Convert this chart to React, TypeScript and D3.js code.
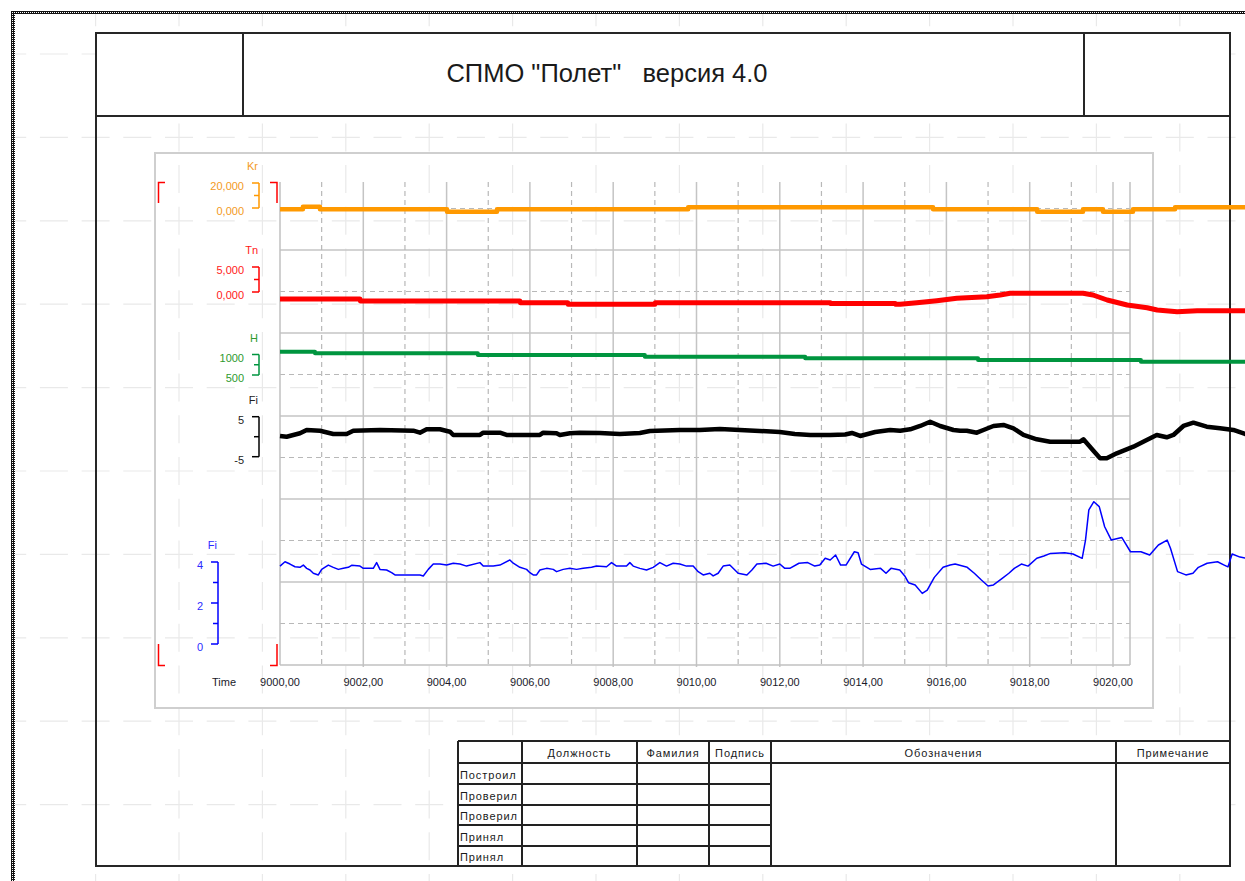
import React from "react";
import * as d3 from "d3";

// ---------- data ----------
const timeStart = 9000;
const xTickValues = [9000, 9002, 9004, 9006, 9008, 9010, 9012, 9014, 9016, 9018, 9020];

// [seconds since timeStart, value]
const krSeries: [number, number][] = [
  [0, -1.04], [0.55, 1.04], [0.96, -1.04], [4.01, -2.96], [5.21, -1.04], [9.8, 0.56],
  [15.68, -1.04], [18.18, -2.96], [19.28, -1.04], [19.76, -2.96], [20.48, -1.04],
  [21.49, 0.56], [23.4, 0.56],
];
const krMajorTicks = [0, 20];
const krMinorTicks = [10];

const tnSeries: [number, number][] = [
  [0, -1.4], [1.92, -1.4], [1.93, -1.8], [5.76, -1.8], [5.77, -2.14], [6.91, -2.14],
  [6.92, -2.46], [9.0, -2.46], [9.01, -2.14], [13.21, -2.14], [13.22, -2.3], [14.77, -2.3],
  [14.78, -2.46], [14.89, -2.46], [15.29, -2.14], [15.77, -1.74], [16.25, -1.26],
  [16.97, -0.94], [17.29, -0.6], [17.53, -0.26], [19.28, -0.26], [19.52, -0.6],
  [19.86, -1.6], [20.34, -2.6], [20.82, -3.14], [21.06, -3.6], [21.54, -3.94],
  [22.02, -3.74], [23.4, -3.74],
];
const tnMajorTicks = [0, 5];
const tnMinorTicks = [2.5];

const hSeries: [number, number][] = [
  [0, 1068], [0.84, 1029], [4.75, 988], [8.76, 946], [12.61, 907], [16.76, 866],
  [20.67, 824], [23.4, 824],
];
const hMajorTicks = [500, 1000];
const hMinorTicks = [750];

const fiSeries: [number, number][] = [
  [0, 0.18], [0.16, 0], [0.48, 0.85], [0.64, 1.68], [0.96, 1.5], [1.28, 0.68], [1.6, 0.68],
  [1.76, 1.5], [2.4, 1.68], [3.2, 1.5], [3.36, 1.0], [3.52, 1.85], [3.84, 1.85], [4.08, 1.25],
  [4.16, 0.43], [4.8, 0.43], [4.88, 1.0], [5.28, 1.0], [5.44, 0.43], [6.24, 0.43], [6.32, 1.0],
  [6.64, 0.85], [6.72, 0.43], [6.96, 0.85], [7.2, 1.0], [7.68, 0.93], [8.16, 0.68], [8.64, 0.93],
  [8.88, 1.43], [9.6, 1.68], [10.08, 1.68], [10.56, 1.93], [11.04, 1.68], [11.52, 1.43],
  [12.0, 1.18], [12.36, 0.68], [12.73, 0.43], [13.21, 0.43], [13.57, 0.55], [13.73, 0.93],
  [13.93, 0.18], [14.29, 1.18], [14.65, 1.68], [14.89, 1.5], [15.13, 1.85], [15.37, 2.68],
  [15.61, 3.75], [15.85, 2.68], [16.17, 1.68], [16.33, 1.5], [16.49, 1.5], [16.73, 1.0],
  [16.89, 1.68], [17.13, 2.68], [17.37, 2.93], [17.61, 2.1], [17.85, 0.43], [18.17, -0.65],
  [18.49, -1.25], [19.21, -1.25], [19.29, -0.65], [19.53, -3.5], [19.69, -5.4], [19.85, -5.4],
  [20.09, -4.15], [20.49, -2.5], [20.81, -0.82], [21.05, 0.43], [21.29, -0.15], [21.45, 0.43],
  [21.69, 2.68], [21.93, 3.5], [22.25, 2.5], [22.57, 2.1], [22.89, 1.68], [23.17, 0.68],
  [23.29, 0.43],
];
const fiMajorTicks = [-5, 5];
const fiMinorTicks = [0];

const fiBlueSeries: [number, number][] = [
  [0.0, 3.8], [0.12, 4.01], [0.24, 3.9], [0.36, 3.77], [0.48, 3.74], [0.56, 3.85], [0.64, 3.69],
  [0.72, 3.61], [0.8, 3.45], [0.92, 3.37], [1.0, 3.64], [1.16, 3.85], [1.28, 3.74], [1.4, 3.64],
  [1.52, 3.69], [1.64, 3.74], [1.72, 3.84], [1.92, 3.8], [2.0, 3.69], [2.24, 3.69], [2.32, 3.97],
  [2.4, 3.64], [2.56, 3.61], [2.68, 3.48], [2.76, 3.37], [3.36, 3.37], [3.44, 3.32], [3.56, 3.64],
  [3.68, 3.9], [3.84, 3.9], [4.0, 3.85], [4.16, 3.94], [4.32, 3.9], [4.48, 3.8], [4.8, 3.97],
  [4.88, 3.8], [5.12, 3.8], [5.28, 3.85], [5.52, 4.1], [5.6, 3.94], [5.76, 3.74], [5.92, 3.64],
  [6.0, 3.48], [6.08, 3.37], [6.16, 3.37], [6.24, 3.61], [6.4, 3.69], [6.56, 3.64], [6.64, 3.53],
  [6.8, 3.64], [6.96, 3.69], [7.12, 3.64], [7.28, 3.69], [7.48, 3.74], [7.6, 3.8], [7.84, 3.77],
  [7.96, 3.97], [8.08, 3.8], [8.32, 3.8], [8.4, 3.97], [8.48, 3.8], [8.64, 3.69], [8.8, 3.61],
  [8.96, 3.74], [9.12, 3.97], [9.28, 3.8], [9.44, 3.94], [9.6, 3.9], [9.76, 3.8], [9.92, 3.8],
  [10.04, 3.53], [10.16, 3.37], [10.32, 3.45], [10.4, 3.32], [10.52, 3.45], [10.64, 3.8],
  [10.8, 3.85], [11.0, 3.45], [11.21, 3.37], [11.33, 3.61], [11.45, 3.9], [11.67, 3.94],
  [11.84, 3.8], [12.0, 3.9], [12.12, 3.69], [12.24, 3.69], [12.46, 3.94], [12.67, 3.97],
  [12.84, 3.8], [12.96, 3.85], [13.09, 4.18], [13.21, 4.1], [13.34, 4.34], [13.46, 3.85],
  [13.59, 3.85], [13.79, 4.5], [13.88, 4.45], [13.96, 3.9], [14.17, 3.64], [14.42, 3.69],
  [14.55, 3.45], [14.67, 3.69], [14.88, 3.61], [15.0, 3.32], [15.09, 2.99], [15.25, 2.88],
  [15.42, 2.47], [15.54, 2.63], [15.71, 3.25], [15.92, 3.74], [16.09, 3.85], [16.21, 3.9],
  [16.5, 3.74], [16.67, 3.45], [16.84, 3.12], [17.0, 2.83], [17.13, 2.88], [17.34, 3.2],
  [17.5, 3.45], [17.63, 3.69], [17.8, 3.9], [17.96, 3.8], [18.17, 4.18], [18.34, 4.29],
  [18.5, 4.42], [18.84, 4.45], [19.04, 4.39], [19.26, 4.18], [19.34, 5.07], [19.42, 6.54],
  [19.54, 6.94], [19.67, 6.7], [19.8, 5.72], [19.96, 5.07], [20.21, 5.2], [20.42, 4.5],
  [20.67, 4.5], [20.88, 4.34], [21.09, 4.83], [21.3, 5.07], [21.38, 4.67], [21.55, 3.53],
  [21.75, 3.37], [21.92, 3.45], [22.05, 3.74], [22.26, 3.94], [22.51, 4.01], [22.67, 3.85],
  [22.76, 3.76], [22.86, 4.39], [23.05, 4.24], [23.17, 4.2], [23.29, 4.2],
];
const fiBlueMajorTicks = [0, 2, 4];
const fiBlueMinorTicks = [1, 3];

const tableColumns = ["", "Должность", "Фамилия", "Подпись", "Обозначения", "Примечание"];
const tableRows = ["Построил", "Проверил", "Проверил", "Принял", "Принял"];
const titleText = 'СПМО "Полет"   версия 4.0';

// ---------- helpers ----------
const FONT = "'Liberation Sans', Arial, sans-serif";
const ruLocale = d3.formatLocale({
  decimal: ",",
  thousands: " ",
  grouping: [3],
  currency: ["", ""],
  minus: "-",
});
const fmt2 = ruLocale.format(".2f");
const fmt3 = ruLocale.format(".3f");
const fmtInt = ruLocale.format("d");

export default function App() {
  const W = 1245;
  const H = 881;
  const plot = { left: 280, right: 1130, top: 182, bottom: 665 };
  const x = d3.scaleLinear().domain([9000, 9020]).range([280, 1113]);

  // plot grid
  const gridStep = 41.5;
  const hGrid = d3
    .range(1, 12)
    .map((k) => ({ y: plot.bottom - k * gridStep, solid: k % 2 === 0 }))
    .filter((g) => g.y > plot.top);
  const vGrid = d3.range(9001, 9021).map((t) => ({ x: x(t), solid: t % 2 === 0 }));

  // background paper grid
  const paperStep = 83.4;
  const period = paperStep / 2;
  const paperX = d3.range(12.2, W + 1, paperStep).slice(1);
  const paperY = d3.range(54, H + 1, paperStep);
  const mod = (a: number, b: number) => ((a % b) + b) % b;
  const vStart = 14;
  const hStart = 15;
  const vOffset = mod(14 - (paperY[0] - vStart), period);
  const hOffset = mod(14 - (paperX[0] - hStart), period);

  const channels = [
    {
      key: "kr", label: "Kr", color: "#ff9900", text: "#f39a1e",
      y: d3.scaleLinear().domain([0, 20]).range([208, 183]),
      axisX: 259, major: krMajorTicks, minor: krMinorTicks, fmt: fmt3,
      data: krSeries, curve: d3.curveStepAfter, width: 4.5,
    },
    {
      key: "tn", label: "Tn", color: "#ff0000", text: "#ff1a1a",
      y: d3.scaleLinear().domain([0, 5]).range([292, 267]),
      axisX: 259, major: tnMajorTicks, minor: tnMinorTicks, fmt: fmt3,
      data: tnSeries, curve: d3.curveLinear, width: 5,
    },
    {
      key: "h", label: "H", color: "#00953f", text: "#2e9a2e",
      y: d3.scaleLinear().domain([500, 1000]).range([375, 354.5]),
      axisX: 259, major: hMajorTicks, minor: hMinorTicks, fmt: fmtInt,
      data: hSeries, curve: d3.curveStepAfter, width: 4,
    },
    {
      key: "fi", label: "Fi", color: "#000000", text: "#222222",
      y: d3.scaleLinear().domain([-5, 5]).range([456.7, 416.7]),
      axisX: 259, major: fiMajorTicks, minor: fiMinorTicks, fmt: fmtInt,
      data: fiSeries, curve: d3.curveLinear, width: 4.5,
    },
    {
      key: "fi2", label: "Fi", color: "#0000ff", text: "#2b2bff",
      y: d3.scaleLinear().domain([0, 4]).range([644, 562]),
      axisX: 218, major: fiBlueMajorTicks, minor: fiBlueMinorTicks, fmt: fmtInt,
      data: fiBlueSeries, curve: d3.curveLinear, width: 1.5,
    },
  ];

  // table geometry
  const colX = [458, 522, 637, 709, 771, 1116, 1230];
  const rowY = [741, 763, 784, 805, 825, 846, 866];

  const frame = { left: 96, top: 33, right: 1230, bottom: 866, titleBottom: 116 };

  return (
    <svg
      width={W}
      height={H}
      style={{ position: "absolute", left: 0, top: 0, display: "block", fontFamily: FONT }}
    >
      <defs>
        <pattern id="chk" width="2" height="2" patternUnits="userSpaceOnUse">
          <rect width="2" height="2" fill="#111" />
          <rect width="1" height="1" fill="#ffffff" />
        </pattern>
      </defs>
      <rect x={0} y={0} width={W} height={H} fill="#ffffff" />

      {/* paper grid */}
      <g stroke="#e9e9e9" strokeWidth={1.2} fill="none">
        {paperX.map((px, i) => (
          <line key={"px" + i} x1={px} x2={px} y1={vStart} y2={H}
            strokeDasharray="28 13.7" strokeDashoffset={vOffset} />
        ))}
        {paperY.map((py, i) => (
          <line key={"py" + i} x1={hStart} x2={W} y1={py} y2={py}
            strokeDasharray="28 13.7" strokeDashoffset={hOffset} />
        ))}
      </g>

      {/* checkered page border */}
      <rect x={11} y={11} width={W - 11} height={3} fill="url(#chk)" />
      <rect x={11} y={11} width={4} height={H - 11} fill="url(#chk)" />

      {/* title block */}
      <rect x={frame.left} y={frame.top} width={frame.right - frame.left}
        height={frame.titleBottom - frame.top} fill="#ffffff" />
      <text x={607} y={73} textAnchor="middle" dominantBaseline="central" fontSize={25.5}
        fill="#1a1a1a" style={{ whiteSpace: "pre" }}>
        {titleText}
      </text>

      {/* chart box */}
      <rect x={155} y={153} width={998} height={555} fill="none" stroke="#cfcfcf" strokeWidth={2} />

      {/* plot grid */}
      <g fill="none">
        {hGrid.map((g, i) => (
          <line key={"hg" + i} x1={plot.left} x2={plot.right} y1={g.y} y2={g.y}
            stroke={g.solid ? "#c4c4c4" : "#b8b8b8"} strokeWidth={g.solid ? 1.5 : 1.2}
            strokeDasharray={g.solid ? undefined : "5 4"} />
        ))}
        {vGrid.map((g, i) => (
          <line key={"vg" + i} x1={g.x} x2={g.x} y1={plot.top} y2={plot.bottom + (g.solid ? 2 : 0)}
            stroke={g.solid ? "#c4c4c4" : "#b8b8b8"} strokeWidth={g.solid ? 1.5 : 1.2}
            strokeDasharray={g.solid ? undefined : "5 4"} />
        ))}
        <line x1={plot.left} x2={plot.left} y1={plot.top} y2={plot.bottom} stroke="#c0c0c0" strokeWidth={1.5} />
        <line x1={plot.right} x2={plot.right} y1={plot.top} y2={plot.bottom} stroke="#c0c0c0" strokeWidth={1.5} />
        <line x1={plot.left} x2={plot.right} y1={plot.bottom} y2={plot.bottom} stroke="#c0c0c0" strokeWidth={1.5} />
      </g>

      {/* x axis labels */}
      <g fontSize={11} fill="#1a1a2a">
        {xTickValues.map((t) => (
          <text key={"xt" + t} x={x(t)} y={682} textAnchor="middle" dominantBaseline="central">
            {fmt2(t)}
          </text>
        ))}
        <text x={224} y={682} textAnchor="middle" dominantBaseline="central">Time</text>
      </g>

      {/* red corner marks */}
      <g stroke="#ff0000" strokeWidth={1.5} fill="none">
        <path d="M165,182.5H158.5V203" />
        <path d="M270,182.5H277V203" />
        <path d="M158.5,644V665.5H165" />
        <path d="M277,644V665.5H270" />
      </g>

      {/* channel axes */}
      {channels.map((c) => {
        const top = c.y(d3.max(c.major) as number);
        const bottom = c.y(d3.min(c.major) as number);
        return (
          <g key={"ax" + c.key}>
            <text x={c.axisX - 1} y={top - 17} textAnchor="end" dominantBaseline="central"
              fontSize={11} fill={c.text}>{c.label}</text>
            <line x1={c.axisX} x2={c.axisX} y1={top} y2={bottom} stroke={c.color} strokeWidth={1.5} />
            {c.major.map((v) => (
              <g key={"mj" + v}>
                <line x1={c.axisX - 7} x2={c.axisX} y1={c.y(v)} y2={c.y(v)} stroke={c.color} strokeWidth={1.5} />
                <text x={c.axisX - 15} y={c.y(v) + 3} textAnchor="end" dominantBaseline="central"
                  fontSize={11} fill={c.text}>{c.fmt(v)}</text>
              </g>
            ))}
            {c.minor.map((v) => (
              <line key={"mn" + v} x1={c.axisX - 5} x2={c.axisX} y1={c.y(v)} y2={c.y(v)}
                stroke={c.color} strokeWidth={1.5} />
            ))}
          </g>
        );
      })}

      {/* bottom table */}
      <rect x={colX[0]} y={rowY[0]} width={colX[6] - colX[0]} height={rowY[6] - rowY[0]} fill="#ffffff" />
      <g stroke="#222" strokeWidth={2} fill="none">
        <line x1={colX[0]} x2={colX[6]} y1={rowY[0]} y2={rowY[0]} />
        <line x1={colX[0]} x2={colX[6]} y1={rowY[1]} y2={rowY[1]} />
        {rowY.slice(2, 6).map((ry, i) => (
          <line key={"tr" + i} x1={colX[0]} x2={colX[4]} y1={ry} y2={ry} />
        ))}
        {colX.slice(0, 6).map((cx, i) => (
          <line key={"tc" + i} x1={cx} x2={cx} y1={rowY[0]} y2={rowY[6]} />
        ))}
      </g>
      <g fontSize={11} fill="#1a1a1a" style={{ letterSpacing: "0.9px" }}>
        {tableColumns.map((name, i) =>
          name ? (
            <text key={"th" + i} x={(colX[i] + colX[i + 1]) / 2} y={(rowY[0] + rowY[1]) / 2 + 1}
              textAnchor="middle" dominantBaseline="central">{name}</text>
          ) : null
        )}
        {tableRows.map((name, i) => (
          <text key={"rw" + i} x={colX[0] + 2} y={(rowY[i + 1] + rowY[i + 2]) / 2 + 1}
            dominantBaseline="central">{name}</text>
        ))}
      </g>

      {/* main frame */}
      <g stroke="#262626" strokeWidth={2} fill="none">
        <rect x={frame.left} y={frame.top} width={frame.right - frame.left} height={frame.bottom - frame.top} />
        <line x1={frame.left} x2={frame.right} y1={frame.titleBottom} y2={frame.titleBottom} />
        <line x1={243} x2={243} y1={frame.top} y2={frame.titleBottom} />
        <line x1={1084} x2={1084} y1={frame.top} y2={frame.titleBottom} />
      </g>

      {/* series */}
      {channels.map((c) => {
        const gen = d3
          .line<[number, number]>()
          .x((d) => x(timeStart + d[0]))
          .y((d) => c.y(d[1]))
          .curve(c.curve);
        return (
          <path key={"ln" + c.key} d={gen(c.data) || ""} fill="none" stroke={c.color}
            strokeWidth={c.width} strokeLinejoin="round" />
        );
      })}
    </svg>
  );
}
